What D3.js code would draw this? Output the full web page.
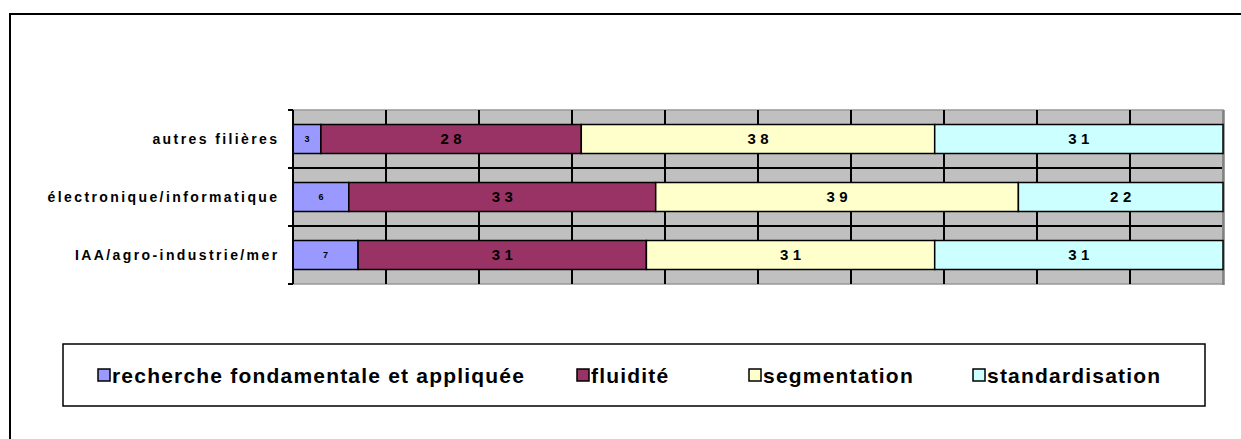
<!DOCTYPE html>
<html>
<head>
<meta charset="utf-8">
<script src="https://cdn.jsdelivr.net/npm/d3@7"></script>
<style>
    body { margin: 0; background: #fff; }
    svg { display: block; font-family: "Liberation Sans", Arial, sans-serif; }
</style>
</head>
<body>
<svg id="chart" width="1241" height="439"></svg>
<script>
// Categories (top to bottom)
const categories = ["autres filières", "électronique/informatique", "IAA/agro-industrie/mer"];

// Series names, in stacking order
const seriesNames = ["recherche fondamentale et appliquée", "fluidité", "segmentation", "standardisation"];

// Series values, one per category
const recherche = [3, 6, 7];
const fluidite = [28, 33, 31];
const segmentation = [38, 39, 31];
const standardisation = [31, 22, 31];

// x grid ticks
const xTicks = [0, 10, 20, 30, 40, 50, 60, 70, 80, 90, 100];

// Excel palette
const colors = ["#9999FF", "#993366", "#FFFFCC", "#CCFFFF"];

let svg = d3.select("#chart");

// Outer chart frame (right and bottom edges fall outside the picture)
svg.append("rect")
    .attr("x", 10).attr("y", 14)
    .attr("width", 1300).attr("height", 500)
    .attr("fill", "none")
    .attr("stroke", "#000")
    .attr("stroke-width", 2);

// Plot area
let plot = { left: 293, right: 1223, top: 110, bottom: 284 };

let x = d3.scaleLinear()
    .domain([0, 100])
    .range([plot.left, plot.right]);

let y = d3.scaleBand()
    .domain(categories)
    .range([plot.top, plot.bottom])
    .paddingInner(0)
    .paddingOuter(0);

// Gray background
svg.append("rect")
    .attr("x", plot.left).attr("y", plot.top)
    .attr("width", plot.right - plot.left)
    .attr("height", plot.bottom - plot.top)
    .attr("fill", "#C0C0C0")
    .attr("stroke", "#999")
    .attr("stroke-width", 1.5);
// darker right edge
svg.append("line")
    .attr("x1", plot.right + 0.5).attr("x2", plot.right + 0.5)
    .attr("y1", plot.top).attr("y2", plot.bottom + 1)
    .attr("stroke", "#808080")
    .attr("stroke-width", 2.5);

// Vertical gridlines
svg.append("g")
    .selectAll("line")
    .data(xTicks.slice(1, -1))
    .join("line")
    .attr("x1", d => x(d)).attr("x2", d => x(d))
    .attr("y1", plot.top).attr("y2", plot.bottom)
    .attr("stroke", "#000")
    .attr("stroke-width", 2);

// Horizontal lines between categories
svg.append("g")
    .selectAll("line")
    .data(categories.slice(1))
    .join("line")
    .attr("x1", plot.left).attr("x2", plot.right - 1)
    .attr("y1", d => y(d)).attr("y2", d => y(d))
    .attr("stroke", "#000")
    .attr("stroke-width", 2);

// Stack the data
let table = categories.map((c, i) => ({
    cat: c,
    s0: recherche[i],
    s1: fluidite[i],
    s2: segmentation[i],
    s3: standardisation[i]
}));
let keys = ["s0", "s1", "s2", "s3"];
let stacked = d3.stack().keys(keys)(table);

let barH = y.bandwidth() * 0.5;

let layers = svg.append("g")
    .selectAll("g")
    .data(stacked)
    .join("g")
    .attr("fill", (d, i) => colors[i]);

layers.selectAll("rect")
    .data(d => d)
    .join("rect")
    .attr("x", d => x(d[0]))
    .attr("width", d => x(d[1]) - x(d[0]))
    .attr("y", d => y(d.data.cat) + (y.bandwidth() - barH) / 2)
    .attr("height", barH)
    .attr("stroke", "#000")
    .attr("stroke-width", 1.5);

// Data labels (small values get a small font, like the original)
let spacing = d => d.val < 10 ? 0 : 4.5;
layers.selectAll("text")
    .data(d => d.map(v => ({ v: v, val: v[1] - v[0] })))
    .join("text")
    .attr("x", d => (x(d.v[0]) + x(d.v[1])) / 2 + spacing(d) / 2)
    .attr("y", d => y(d.v.data.cat) + y.bandwidth() / 2)
    .attr("dy", "0.36em")
    .attr("text-anchor", "middle")
    .attr("fill", "#000")
    .attr("font-weight", "bold")
    .attr("font-size", d => d.val < 10 ? "9px" : "15px")
    .attr("letter-spacing", d => spacing(d) + "px")
    .text(d => d.val);

// Left axis
let yAxis = svg.append("g")
    .attr("transform", "translate(" + plot.left + ",0)");
yAxis.append("line")
    .attr("x1", 0).attr("x2", 0)
    .attr("y1", plot.top).attr("y2", plot.bottom)
    .attr("stroke", "#000")
    .attr("stroke-width", 2);
yAxis.selectAll(".tick")
    .data(categories.map(c => y(c)).concat([plot.bottom]))
    .join("line")
    .attr("class", "tick")
    .attr("x1", -5).attr("x2", 0)
    .attr("y1", d => d).attr("y2", d => d)
    .attr("stroke", "#000")
    .attr("stroke-width", 2);
yAxis.selectAll("text")
    .data(categories)
    .join("text")
    .attr("x", -13.5)
    .attr("y", d => y(d) + y.bandwidth() / 2)
    .attr("dy", "0.36em")
    .attr("text-anchor", "end")
    .attr("font-size", "14px")
    .attr("font-weight", "bold")
    .attr("letter-spacing", "2.4px")
    .attr("fill", "#000")
    .text(d => d);

// Legend
let legend = svg.append("g");
legend.append("rect")
    .attr("x", 63).attr("y", 344)
    .attr("width", 1142).attr("height", 62)
    .attr("fill", "#fff")
    .attr("stroke", "#000")
    .attr("stroke-width", 1.5);

let legendX = [98, 577, 749, 973];
let items = legend.selectAll("g.item")
    .data(seriesNames)
    .join("g")
    .attr("class", "item")
    .attr("transform", (d, i) => "translate(" + legendX[i] + ",375)");
items.append("rect")
    .attr("x", 0).attr("y", -6)
    .attr("width", 12).attr("height", 12)
    .attr("fill", (d, i) => colors[i])
    .attr("stroke", "#000")
    .attr("stroke-width", 1.5);
items.append("text")
    .attr("x", 14)
    .attr("dy", "0.36em")
    .attr("font-size", "21px")
    .attr("font-weight", "bold")
    .attr("letter-spacing", "1.2px")
    .attr("fill", "#000")
    .text(d => d);
</script>
</body>
</html>
